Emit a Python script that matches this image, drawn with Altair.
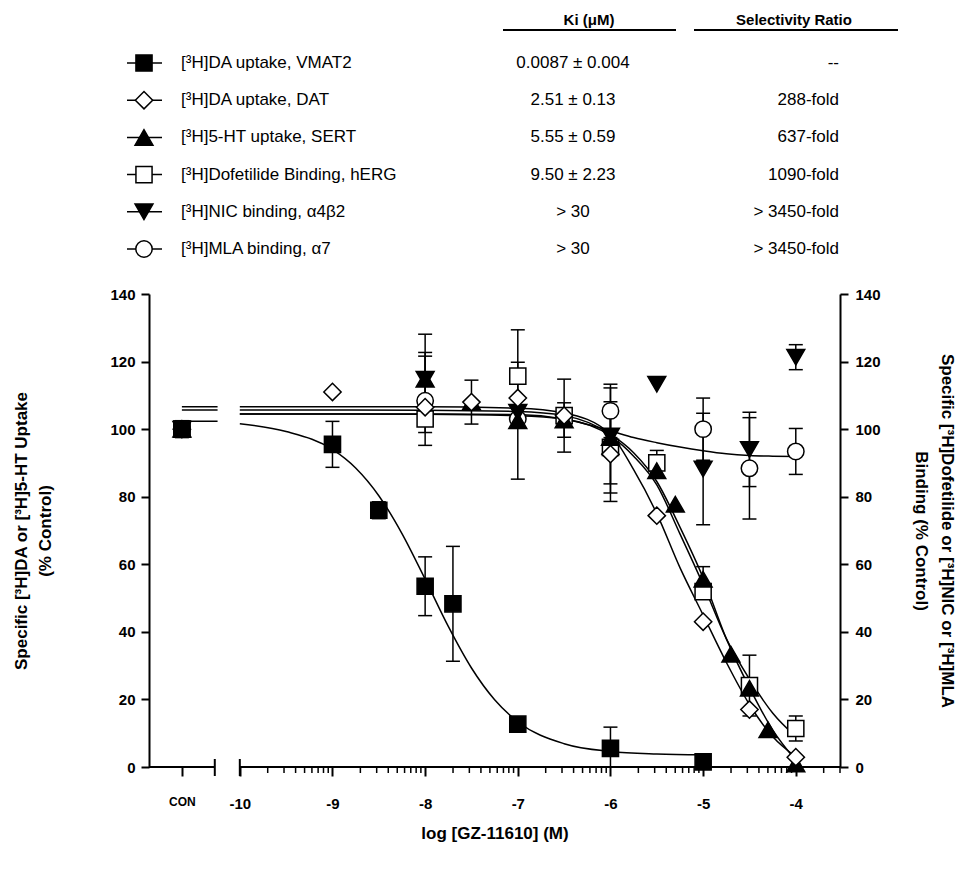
import altair as alt
import pandas as pd
import numpy as np

# ---------------- legend / table text ----------------
KEYS = ["VMAT2", "DAT", "SERT", "hERG", "NIC", "MLA"]
LABELS = ["[³H]DA uptake, VMAT2", "[³H]DA uptake, DAT", "[³H]5-HT uptake, SERT",
          "[³H]Dofetilide Binding, hERG", "[³H]NIC binding, α4β2", "[³H]MLA binding, α7"]
KI = ["0.0087 ± 0.004", "2.51 ± 0.13", "5.55 ± 0.59", "9.50 ± 2.23", "> 30", "> 30"]
RATIO = ["--", "288-fold", "637-fold", "1090-fold", "> 3450-fold", "> 3450-fold"]
HEAD_KI = "Ki (μM)"
HEAD_RATIO = "Selectivity Ratio"

# ---------------- data points (log M; "CON" = control) ----------------
VMAT2_x = ["CON", -9, -8.5, -8, -7.7, -7, -6, -5]
VMAT2_y = [100, 95.5, 76, 53.5, 48.3, 12.7, 5.5, 1.5]
VMAT2_e = [2.5, 6.8, 2.5, 8.7, 17, 1.0, 6.3, None]

DAT_x = ["CON", -9, -8, -7.5, -7, -6.5, -6, -5.5, -5, -4.5, -4]
DAT_y = [100, 111, 106.5, 108, 109.2, 104, 92.6, 74.4, 43, 17, 2.9]
DAT_e = [None, None, None, None, None, None, 14, None, None, None, None]

SERT_x = ["CON", -8, -7.5, -7, -6.5, -6, -5.5, -5.3, -5, -4.7, -4.5, -4.3, -4]
SERT_y = [100, 114.8, 108, 102.5, 102.7, 97.5, 87.7, 77.8, 55.6, 33.4, 23.3, 11, 0.9]
SERT_e = [None, 7.9, 6.5, 17.3, 5.1, None, None, None, 3.7, None, None, None, None]

HERG_x = ["CON", -8, -7, -6.5, -6, -5.5, -5, -4.5, -4]
HERG_y = [100, 103, 115.7, 104, 94.6, 90, 51.9, 24.1, 11.4]
HERG_e = [None, 4, 13.7, 10.8, 13.5, 3.7, None, 9, 3.7]

NIC_x = ["CON", -8, -7, -6, -5.5, -5, -4.5, -4]
NIC_y = [100, 114.8, 105, 98, 113.3, 88.2, 94, 121.3]
NIC_e = [None, 13.3, None, 14.2, None, 16.5, 11, 3.7]

MLA_x = ["CON", -8, -7, -6, -5, -4.5, -4]
MLA_y = [100, 108.4, 103, 105.4, 100, 88.4, 93.4]
MLA_e = [None, 13.2, None, 7.9, 9.2, 15, 6.8]

# ---------------- fitted curves ----------------
VMAT2_cx = [-10, -9.5, -9, -8.75, -8.5, -8.25, -8, -7.75, -7.5, -7.25, -7, -6.5, -6, -5.5, -5]
VMAT2_cy = [101.6, 99.3, 94, 88.5, 80.3, 69.1, 55.6, 41.6, 29.3, 19.9, 13.4, 6.9, 4.6, 3.85, 3.6]
CURVE_X = [-10, -8, -7, -6.5, -6, -5.75, -5.5, -5.25, -5, -4.75, -4.5, -4.25, -4]
DAT_cy = [106.6, 106.6, 106.2, 104.8, 98.5, 88, 75, 59, 45, 31, 18.5, 9, 3]
SERT_cy = [105.7, 105.6, 105.2, 104, 98.5, 93, 84.5, 71, 56, 38, 23.5, 11, 2]
HERG_cy = [104.5, 104.4, 104, 103, 98, 92, 83.5, 69, 54, 38, 26, 16, 9]
MLA_cy = [104.5, 104.5, 104.3, 103, 99.5, 97.5, 96, 94.7, 93.6, 92.7, 92.2, 92, 91.9]
CON_SEG_KEYS = ["DAT", "SERT", "VMAT2"]
CON_SEG_Y = [106.6, 105.7, 102.3]

# ---------------- axis layout constants ----------------
CON_X = -10.625
X_MIN = -10.98
X_MAX = float(np.log10(3e-4))
BREAK_L = -10.27
BREAK_R = -10.0
SEG_END = -10.24
MAJOR = [-10, -9, -8, -7, -6, -5, -4]
MINOR = [n + float(np.log10(k)) for n in range(-10, -4) for k in range(2, 10)] + \
        [-4 + float(np.log10(2)), X_MAX]
Y_TICKS = [0, 20, 40, 60, 80, 100, 120, 140]

W, H = 691, 473
FONT = "Liberation Sans"

# ---------------- build tables ----------------
series = [("VMAT2", VMAT2_x, VMAT2_y, VMAT2_e), ("DAT", DAT_x, DAT_y, DAT_e),
          ("SERT", SERT_x, SERT_y, SERT_e), ("hERG", HERG_x, HERG_y, HERG_e),
          ("NIC", NIC_x, NIC_y, NIC_e), ("MLA", MLA_x, MLA_y, MLA_e)]
prow = []
for k, xs, ys, es in series:
    for xv, yv, ev in zip(xs, ys, es):
        xx = CON_X if xv == "CON" else float(xv)
        prow.append(dict(key=k, x=xx, y=yv,
                         lo=None if ev is None else max(0.0, yv - ev),
                         hi=None if ev is None else yv + ev))
pdf = pd.DataFrame(prow)
edf = pdf.dropna(subset=["lo"])

crow = []
for xv, yv in zip(VMAT2_cx, VMAT2_cy):
    crow.append(dict(seg="VMAT2", x=xv, y=yv))
for k, cy in [("DAT", DAT_cy), ("SERT", SERT_cy), ("hERG", HERG_cy), ("MLA", MLA_cy)]:
    for xv, yv in zip(CURVE_X, cy):
        crow.append(dict(seg=k, x=xv, y=yv))
for k, yv in zip(CON_SEG_KEYS, CON_SEG_Y):
    crow.append(dict(seg=k + "_con", x=CON_X, y=yv))
    crow.append(dict(seg=k + "_con", x=SEG_END, y=yv))
cdf = pd.DataFrame(crow)

xscale = alt.Scale(domain=[X_MIN, X_MAX], nice=False, zero=False)
yscale = alt.Scale(domain=[0, 140], nice=False, zero=False)


def X(field="x", axis=alt.Undefined):
    return alt.X(f"{field}:Q", scale=xscale, axis=axis)


def Y(field="y", axis=alt.Undefined):
    return alt.Y(f"{field}:Q", scale=yscale, axis=axis)


x_axis = alt.Axis(values=[CON_X] + MAJOR, domain=False, ticks=True, tickSize=9, tickWidth=2,
                  tickColor="black", grid=False,
                  labelExpr="datum.value < -10.5 ? 'CON' : '-' + format(-datum.value, 'd')",
                  labelFont=FONT, labelFontWeight="bold",
                  labelFontSize={"condition": {"test": "datum.value < -10.5", "value": 12},
                                 "value": 15},
                  labelColor="black", labelPadding=20, labelFlush=False, labelOverlap=False,
                  title="log [GZ-11610] (M)", titleFont=FONT, titleFontSize=17,
                  titleFontWeight="bold", titleColor="black", titlePadding=14)

y_axis_left = alt.Axis(values=Y_TICKS, domain=True, domainWidth=2, domainColor="black",
                       ticks=True, tickSize=8, tickWidth=2, tickColor="black", grid=False,
                       labelFont=FONT, labelFontWeight="bold", labelFontSize=15,
                       labelColor="black", labelPadding=6,
                       title=["Specific [³H]DA or [³H]5-HT Uptake", "(% Control)"],
                       titleFont=FONT, titleFontSize=17, titleFontWeight="bold",
                       titleColor="black", titlePadding=55, titleLineHeight=24)

y_axis_right = alt.Axis(orient="right", values=Y_TICKS, domain=True, domainWidth=2,
                        domainColor="black", ticks=True, tickSize=8, tickWidth=2,
                        tickColor="black", grid=False,
                        labelFont=FONT, labelFontWeight="bold", labelFontSize=15,
                        labelColor="black", labelPadding=7,
                        title=["Specific [³H]Dofetilide or [³H]NIC or [³H]MLA",
                               "Binding (% Control)"],
                        titleFont=FONT, titleFontSize=17, titleFontWeight="bold",
                        titleColor="black", titlePadding=31, titleLineHeight=26)

# ---------------- main plot layers ----------------
curves = alt.Chart(cdf).mark_line(interpolate="monotone", color="black", strokeWidth=1.5).encode(
    x=X(axis=x_axis), y=Y(axis=y_axis_left), detail="seg:N")

seg_df = pd.DataFrame({"x": [X_MIN, BREAK_R], "b": [BREAK_L, X_MAX]})
xdomain = alt.Chart(seg_df).mark_rule(color="black", strokeWidth=2).encode(
    x=X(), x2="b:Q", y=alt.value(H))

brk = alt.Chart(pd.DataFrame({"x": [BREAK_L, BREAK_R]})).mark_rule(
    color="black", strokeWidth=2).encode(x=X(), y=alt.value(H - 8), y2=alt.value(H + 9))

minor = alt.Chart(pd.DataFrame({"x": MINOR})).mark_rule(
    color="black", strokeWidth=1.5).encode(x=X(), y=alt.value(H), y2=alt.value(H + 6))

ebar = alt.Chart(edf).mark_rule(color="black", strokeWidth=1.5).encode(
    x=X(), y=Y("lo"), y2="hi:Q")
cap_lo = alt.Chart(edf).mark_tick(orient="horizontal", color="black", size=14,
                                  thickness=1.5, opacity=1).encode(x=X(), y=Y("lo"))
cap_hi = alt.Chart(edf).mark_tick(orient="horizontal", color="black", size=14,
                                  thickness=1.5, opacity=1).encode(x=X(), y=Y("hi"))

STYLE = {"VMAT2": ("square", "black", 260), "DAT": ("diamond", "white", 300),
         "SERT": ("triangle-up", "black", 320), "hERG": ("square", "white", 260),
         "NIC": ("triangle-down", "black", 320), "MLA": ("circle", "white", 270)}


def point_layer(k):
    shape, fill, size = STYLE[k]
    return alt.Chart(pdf[pdf.key == k]).mark_point(
        shape=shape, filled=True, fill=fill, stroke="black", strokeWidth=1.5,
        size=size, opacity=1, fillOpacity=1).encode(x=X(), y=Y())


main_inner = alt.layer(curves, xdomain, brk, minor, ebar, cap_lo, cap_hi,
                       *[point_layer(k) for k in reversed(KEYS)])

right = alt.Chart(pd.DataFrame({"v": [0, 140]})).mark_point(opacity=0).encode(
    y=alt.Y("v:Q", scale=alt.Scale(domain=[0, 140], nice=False, zero=False), axis=y_axis_right))

main = alt.layer(main_inner, right).resolve_scale(y="independent").properties(width=W, height=H)

# ---------------- legend / table panel ----------------
ldf = pd.DataFrame({"key": KEYS, "label": LABELS, "ki": KI, "ratio": RATIO,
                    "row": list(range(len(KEYS)))})
RY = alt.Y("row:Q", scale=alt.Scale(domain=[0, 5], range=[58, 244]), axis=None)

leg_line = alt.Chart(ldf).mark_rule(color="black", strokeWidth=1.5).encode(
    x=alt.value(-22), x2=alt.value(13), y=RY)


def leg_sym(k):
    shape, fill, size = STYLE[k]
    return alt.Chart(ldf[ldf.key == k]).mark_point(
        shape=shape, filled=True, fill=fill, stroke="black", strokeWidth=1.5,
        size=size, opacity=1, fillOpacity=1).encode(x=alt.value(-5), y=RY)


leg_lab = alt.Chart(ldf).mark_text(align="left", baseline="middle", font=FONT, fontSize=17,
                                   color="black").encode(x=alt.value(32), y=RY, text="label:N")
leg_ki = alt.Chart(ldf).mark_text(align="center", baseline="middle", font=FONT, fontSize=17,
                                  color="black").encode(x=alt.value(424), y=RY, text="ki:N")
leg_ratio = alt.Chart(ldf).mark_text(align="right", baseline="middle", font=FONT, fontSize=17,
                                     color="black").encode(x=alt.value(690), y=RY, text="ratio:N")
hdf = pd.DataFrame({"t": [HEAD_KI, HEAD_RATIO]})
head_ki = alt.Chart(hdf[hdf.t == HEAD_KI]).mark_text(
    align="center", baseline="middle", font=FONT, fontSize=15, fontWeight="bold",
    color="black").encode(x=alt.value(440), y=alt.value(15), text="t:N")
head_ratio = alt.Chart(hdf[hdf.t == HEAD_RATIO]).mark_text(
    align="center", baseline="middle", font=FONT, fontSize=15, fontWeight="bold",
    color="black").encode(x=alt.value(645), y=alt.value(15), text="t:N")
under = alt.Chart(pd.DataFrame({"a": [354, 545], "b": [527, 749]})).mark_rule(
    color="black", strokeWidth=2).encode(
    x=alt.X("a:Q", scale=alt.Scale(domain=[0, W], range=[0, W], nice=False, zero=False), axis=None),
    x2="b:Q", y=alt.value(25))

legend = alt.layer(leg_line, *[leg_sym(k) for k in KEYS], leg_lab, leg_ki, leg_ratio,
                   head_ki, head_ratio, under).properties(width=W, height=250)

chart = alt.vconcat(legend, main, spacing=26).configure(
    background="white", padding={"left": 12, "top": 5, "right": 5, "bottom": 5}
).configure_view(strokeWidth=0, strokeOpacity=0)

chart.save("out.html", embed_options={"renderer": "svg", "actions": False})
